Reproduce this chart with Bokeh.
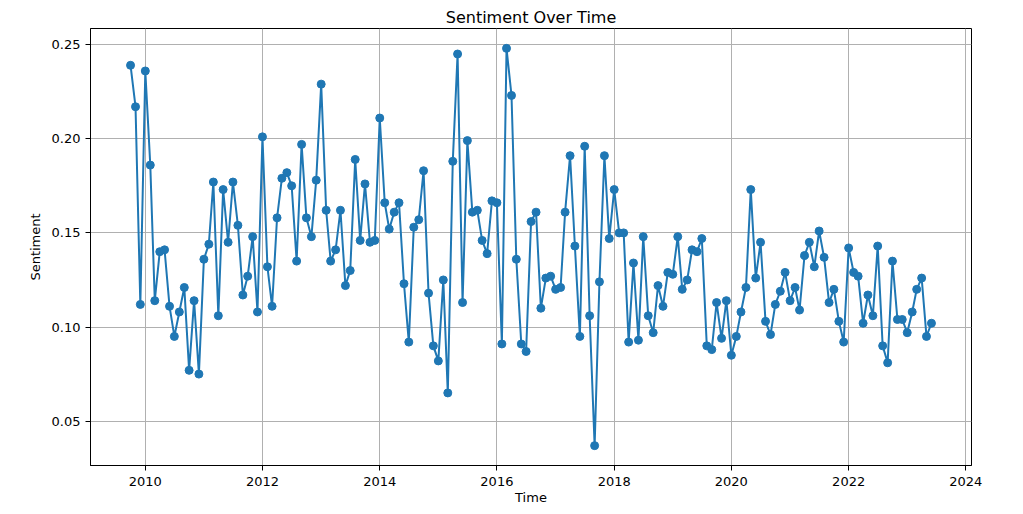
import pandas as pd
from bokeh.plotting import figure
from bokeh.models import (ColumnDataSource, Range1d, FixedTicker,
                          DatetimeTickFormatter, NumeralTickFormatter)
from bokeh.embed import file_html
from bokeh.resources import INLINE

# ---- data -------------------------------------------------------------
start_month = "2009-10-01"   # monthly series, first observation
sentiment = [
    0.239, 0.217, 0.112, 0.236, 0.186, 0.114, 0.140, 0.141, 0.111, 0.095,
    0.108, 0.121, 0.077, 0.114, 0.075, 0.136, 0.144, 0.177, 0.106, 0.173,
    0.145, 0.177, 0.154, 0.117, 0.127, 0.148, 0.108, 0.201, 0.132, 0.111,
    0.158, 0.179, 0.182, 0.175, 0.135, 0.197, 0.158, 0.148, 0.178, 0.229,
    0.162, 0.135, 0.141, 0.162, 0.122, 0.130, 0.189, 0.146, 0.176, 0.145,
    0.146, 0.211, 0.166, 0.152, 0.161, 0.166, 0.123, 0.092, 0.153, 0.157,
    0.183, 0.118, 0.090, 0.082, 0.125, 0.065, 0.188, 0.245, 0.113, 0.199,
    0.161, 0.162, 0.146, 0.139, 0.167, 0.166, 0.091, 0.248, 0.223, 0.136,
    0.091, 0.087, 0.156, 0.161, 0.110, 0.126, 0.127, 0.120, 0.121, 0.161,
    0.191, 0.143, 0.095, 0.196, 0.106, 0.037, 0.124, 0.191, 0.147, 0.173,
    0.150, 0.150, 0.092, 0.134, 0.093, 0.148, 0.106, 0.097, 0.122, 0.111,
    0.129, 0.128, 0.148, 0.120, 0.125, 0.141, 0.140, 0.147, 0.090, 0.088,
    0.113, 0.094, 0.114, 0.085, 0.095, 0.108, 0.121, 0.173, 0.126, 0.145,
    0.103, 0.096, 0.112, 0.119, 0.129, 0.114, 0.121, 0.109, 0.138, 0.145,
    0.132, 0.151, 0.137, 0.113, 0.120, 0.103, 0.092, 0.142, 0.129, 0.127,
    0.102, 0.117, 0.106, 0.143, 0.090, 0.081, 0.135, 0.104, 0.104, 0.097,
    0.108, 0.120, 0.126, 0.095, 0.102,
]
tick_years = [2010, 2012, 2014, 2016, 2018, 2020, 2022, 2024]
y_ticks = [0.05, 0.10, 0.15, 0.20, 0.25]

title_text = "Sentiment Over Time"
x_label = "Time"
y_label = "Sentiment"

# ---- build ------------------------------------------------------------
dates = pd.date_range(start_month, periods=len(sentiment), freq="MS")
src = ColumnDataSource(dict(date=dates, s=sentiment))

x0, x1 = dates.min(), dates.max()
xpad = (x1 - x0) * 0.05
y0, y1 = min(sentiment), max(sentiment)
ypad = (y1 - y0) * 0.05

FONT = "DejaVu Sans"
BLUE = "#1f77b4"

p = figure(
    x_axis_type="datetime",
    x_range=Range1d(x0 - xpad, x1 + xpad),
    y_range=Range1d(y0 - ypad, y1 + ypad),
    frame_width=881, frame_height=437,
    min_border_left=90, min_border_right=52,
    min_border_top=28, min_border_bottom=49,
    output_backend="svg", toolbar_location=None,
    title=title_text,
)
p.background_fill_color = "white"
p.border_fill_color = "white"
p.outline_line_color = "black"
p.outline_line_width = 1

p.title.align = "center"
p.title.text_font = FONT
p.title.text_font_size = "16px"
p.title.text_font_style = "normal"
p.title.text_color = "black"
p.title.standoff = 4
p.title.offset = 0

p.line("date", "s", source=src, line_color=BLUE, line_width=2)
p.scatter("date", "s", source=src, size=8, fill_color=BLUE, line_color=BLUE)

p.xaxis.ticker = FixedTicker(
    ticks=[pd.Timestamp(f"{y}-01-01").timestamp() * 1000 for y in tick_years])
p.xaxis.formatter = DatetimeTickFormatter(years="%Y", months="%Y", days="%Y")
p.yaxis.ticker = FixedTicker(ticks=y_ticks)
p.yaxis.formatter = NumeralTickFormatter(format="0.00")

for ax in (p.xaxis[0], p.yaxis[0]):
    ax.axis_line_color = "black"
    ax.major_tick_line_color = "black"
    ax.major_tick_out = 5
    ax.major_tick_in = 0
    ax.minor_tick_line_color = None
    ax.major_label_text_font = FONT
    ax.major_label_text_font_size = "13px"
    ax.major_label_text_color = "black"
    ax.axis_label_text_font = FONT
    ax.axis_label_text_font_size = "13px"
    ax.axis_label_text_font_style = "normal"
    ax.axis_label_text_color = "black"

p.xaxis.major_label_standoff = 6
p.xaxis.axis_label_standoff = 1
p.yaxis.major_label_standoff = 5
p.yaxis.axis_label_standoff = 6

p.xaxis.axis_label = x_label
p.yaxis.axis_label = y_label

for g in (p.xgrid[0], p.ygrid[0]):
    g.grid_line_color = "#b0b0b0"
    g.grid_line_width = 1

open("out.html", "w").write(file_html(p, INLINE))
